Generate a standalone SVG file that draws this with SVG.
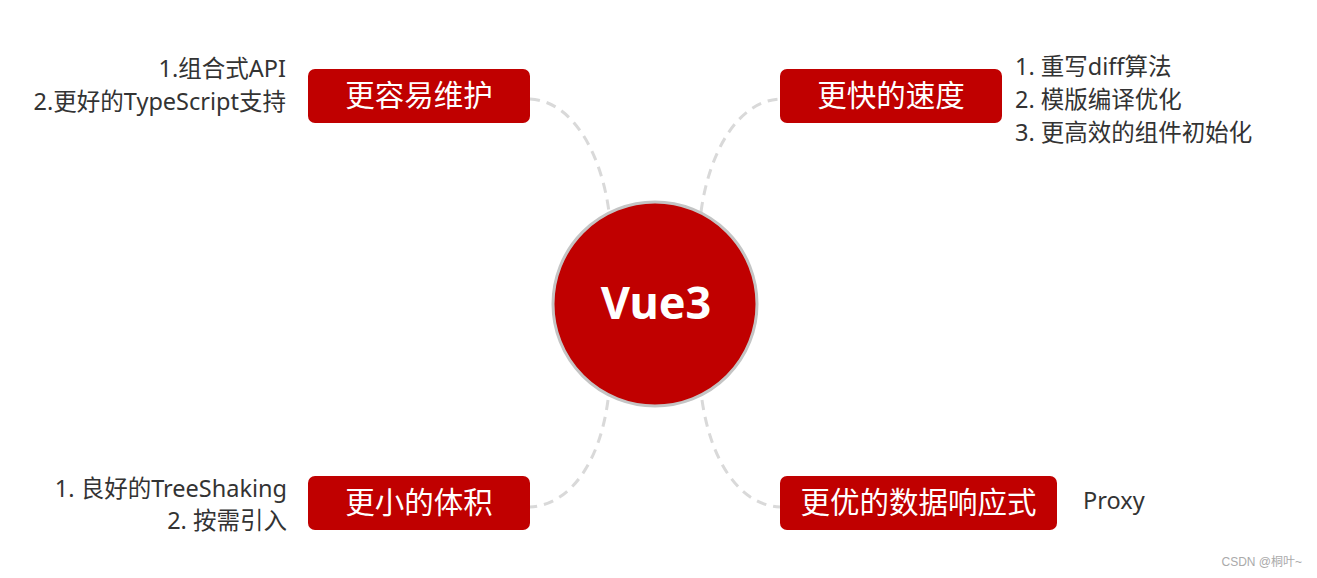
<svg xmlns="http://www.w3.org/2000/svg" width="1317" height="578" viewBox="0 0 1317 578">
<style>
.box{fill:#c00000;}
.bt{fill:#ffffff;font-family:"Noto Sans CJK SC","Noto Sans",sans-serif;font-size:29.5px;text-anchor:middle;}
.side{fill:#333333;font-family:"Noto Sans","Noto Sans CJK SC",sans-serif;font-size:23.5px;}
.r{text-anchor:end;}
.conn{fill:none;stroke:#d9d9d9;stroke-width:3;stroke-dasharray:10 7;}
</style>
<rect width="1317" height="578" fill="#ffffff"/>
<g id="connectors">
<path class="conn" d="M530,99 C572,101 601,152 609,212"/>
<path class="conn" d="M701,212 C709,152 738,101 780,99"/>
<path class="conn" d="M608,400 C600,462 570,505 530,507"/>
<path class="conn" d="M702,400 C711,462 740,505 780,507"/>
</g>
<g id="center">
<circle cx="655" cy="304" r="102" fill="#c00000" stroke="#c4c4c4" stroke-width="3"/>
<text x="656" y="319" fill="#ffffff" font-family="'Noto Sans','Open Sans',sans-serif" font-size="45" font-weight="bold" text-anchor="middle">Vue3</text>
</g>
<g id="node-maintain">
<rect class="box" x="308" y="69" width="222" height="54" rx="7"/>
<text class="bt" x="419" y="106">更容易维护</text>
<text class="side r" x="286" y="77">1.组合式API</text>
<text class="side r" x="286" y="110">2.更好的TypeScript支持</text>
</g>
<g id="node-speed">
<rect class="box" x="780" y="69" width="222" height="54" rx="7"/>
<text class="bt" x="891" y="106">更快的速度</text>
<text class="side" x="1015" y="75">1. 重写diff算法</text>
<text class="side" x="1015" y="108">2. 模版编译优化</text>
<text class="side" x="1015" y="141">3. 更高效的组件初始化</text>
</g>
<g id="node-size">
<rect class="box" x="308" y="476" width="222" height="54" rx="7"/>
<text class="bt" x="419" y="513">更小的体积</text>
<text class="side r" x="287" y="497">1. 良好的TreeShaking</text>
<text class="side r" x="287" y="529">2. 按需引入</text>
</g>
<g id="node-reactive">
<rect class="box" x="780" y="476" width="277" height="54" rx="7"/>
<text class="bt" x="918.5" y="513" textLength="236" lengthAdjust="spacing">更优的数据响应式</text>
<text class="side" x="1083" y="509">Proxy</text>
</g>
<text x="1302" y="566" fill="#aaaaaa" font-family="'Liberation Sans','Noto Sans CJK SC',sans-serif" font-size="12" text-anchor="end">CSDN @桐叶~</text>
</svg>
